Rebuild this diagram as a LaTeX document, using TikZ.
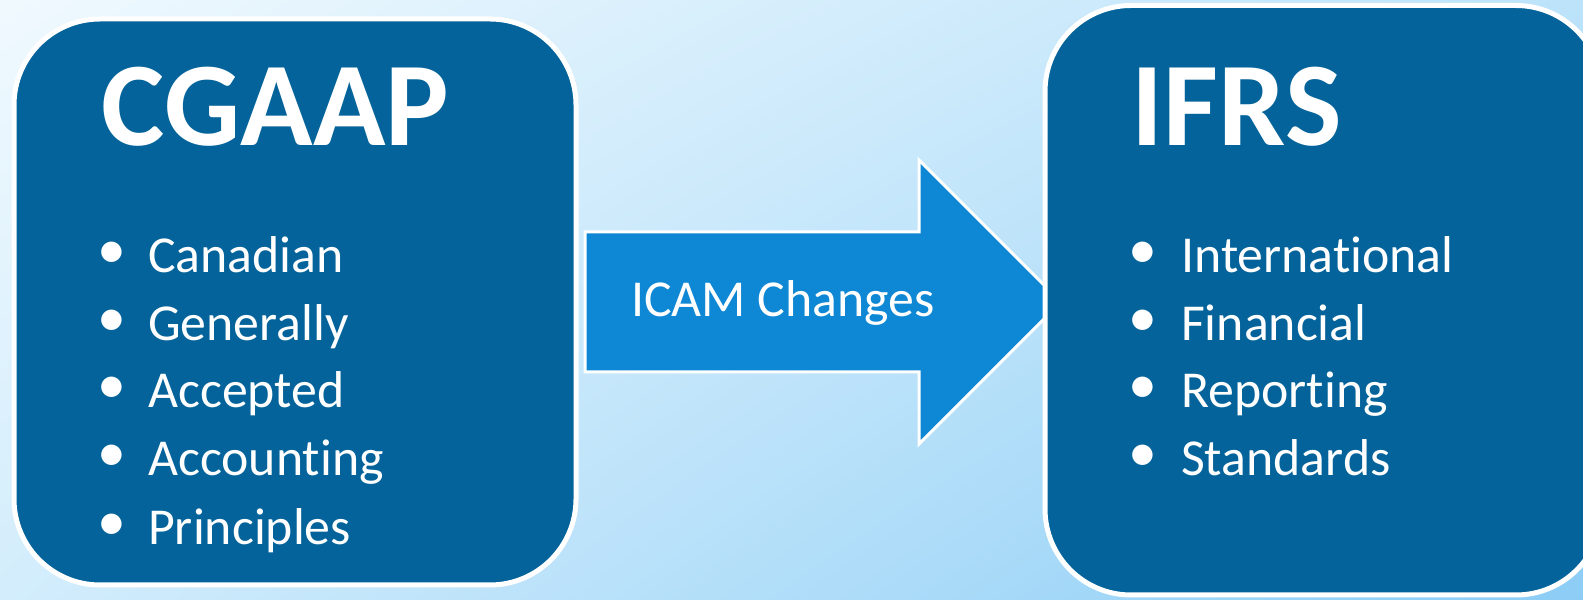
\documentclass[tikz,border=0pt]{standalone}
\usepackage{fontspec}
\setmainfont{Carlito}[Ligatures=NoCommon]
\usetikzlibrary{shadings}
\definecolor{boxblue}{HTML}{03639A}
\definecolor{arrowblue}{HTML}{0E87D4}
\definecolor{bgtl}{HTML}{F0F9FE}
\definecolor{bgtr}{HTML}{BCE3FA}
\definecolor{bgbl}{HTML}{D3EDFC}
\definecolor{bgbr}{HTML}{8CCDF6}

\begin{document}
\begin{tikzpicture}[x=1bp,y=1bp,
  panel/.style={fill=boxblue,draw=white,line width=5bp,rounded corners=86bp},
  title/.style={anchor=base west,text=white,inner sep=0pt,font=\addfontfeatures{Kerning=Off}\bfseries\fontsize{120}{130}\selectfont},
  item/.style={anchor=base west,text=white,inner sep=0pt,font=\fontsize{52}{60}\selectfont},
  dot/.style={text=white,inner sep=0pt,font=\fontsize{58}{60}\selectfont}]
\path[use as bounding box] (0,0) rectangle (1583,600);
\clip (0,0) rectangle (1583,600);
\shade[upper left=bgtl,upper right=bgtr,lower left=bgbl,lower right=bgbr] (0,0) rectangle (1583,600);
% block arrow in the middle, its tip runs under the right panel
\draw[fill=arrowblue,draw=white,line width=3bp] (585,368)--(919,368)--(919,440)--(1061,298)--(919,156)--(919,228)--(585,228)--cycle;
\node[item] (icam) at (631,283) {ICAM Changes};
% left panel
\draw[panel] (14,581) rectangle (576,15);
\node[title] (cgaap) at (101,454) {CGAAP};
\node[dot] (d1) at (112,345) {\textbullet};\node[item] (l1) at (148,327) {Canadian};
\node[dot] (d2) at (112,277) {\textbullet};\node[item] (l2) at (148,259) {Generally};
\node[dot] (d3) at (112,210) {\textbullet};\node[item] (l3) at (148,192) {Accepted};
\node[dot] (d4) at (112,142) {\textbullet};\node[item] (l4) at (148,124) {Accounting};
\node[dot] (d5) at (112,73) {\textbullet};\node[item] (l5) at (148,55) {Principles};
% right panel
\draw[panel] (1045,594.5) rectangle (1602,5);
\node[title] (ifrs) at (1131,454) {IFRS};
\node[dot] (e1) at (1143,345) {\textbullet};\node[item] (r1) at (1181,327) {International};
\node[dot] (e2) at (1143,277) {\textbullet};\node[item] (r2) at (1181,259) {Financial};
\node[dot] (e3) at (1143,210) {\textbullet};\node[item] (r3) at (1181,192) {Reporting};
\node[dot] (e4) at (1143,142) {\textbullet};\node[item] (r4) at (1181,124) {Standards};
\end{tikzpicture}
\end{document}
